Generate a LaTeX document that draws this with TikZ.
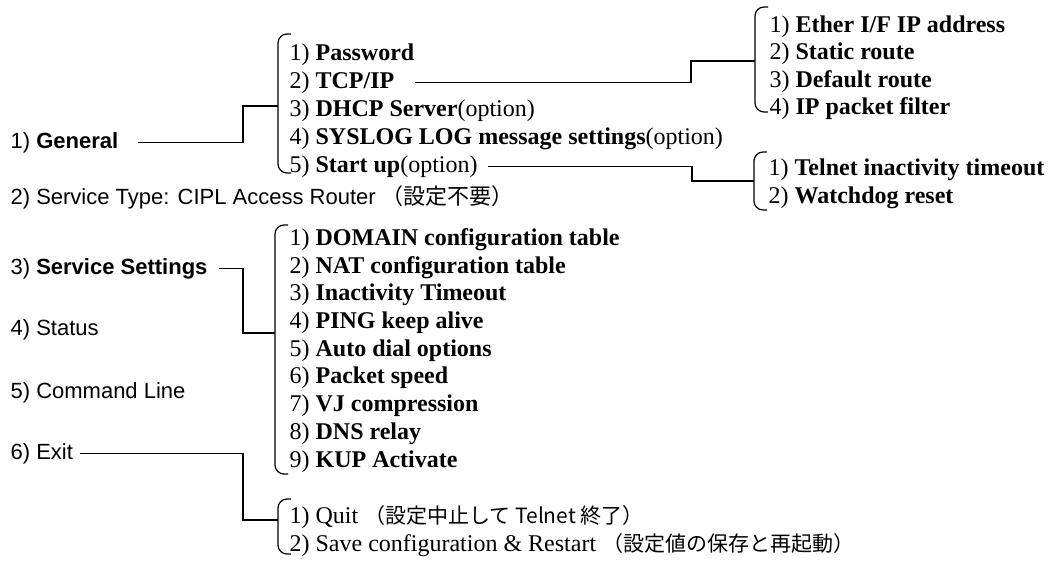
\documentclass[tikz,border=0pt]{standalone}
\usepackage{fontspec}
\setmainfont{Liberation Serif}
\setsansfont{Liberation Sans}
\newfontfamily\jp{Noto Sans CJK JP}
\usetikzlibrary{calc}
\def\lbrak(#1:#2:#3){\draw[rounded corners=9pt] (#1+13,#2) -- (#1,#2) -- (#1,#3) -- (#1+13,#3);}

\begin{document}
\begin{tikzpicture}[x=1pt,y=-1pt,line width=1.2pt,
	item/.style={anchor=base west,inner sep=0pt,font=\fontsize{24}{28}\selectfont},
	menu/.style={anchor=base west,inner sep=0pt,font=\sffamily\fontsize{22}{26}\selectfont}]
			%%%%% START %%%%%
			\useasboundingbox (0,0) rectangle (1050,560);
			
			\node[menu] (gen) at (10,148) {1) \textbf{General}};
			\node[menu] (stype) at (10,204) {2) Service Type: CIPL Access Router {\jp （設定不要）}};
			\node[menu] (sset) at (10,274) {3) \textbf{Service Settings}};
			\node[menu] (status) at (10,335) {4) Status};
			\node[menu] (cmdl) at (10,398) {5) Command Line};
			\node[menu] (exitm) at (10,459) {6) Exit};
			
			\lbrak(278:34:173)
			\node[item] (g1) at (289,60) {1) \textbf{Password}};
			\node[item] (g2) at (289,88) {2) \textbf{TCP/IP}};
			\node[item] (g3) at (289,116) {3) \textbf{DHCP Server}(option)};
			\node[item] (g4) at (289,144) {4) \textbf{SYSLOG LOG message settings}(option)};
			\node[item] (g5) at (289,172) {5) \textbf{Start up}(option)};
			
			\lbrak(755:7:112)
			\node[item] (t1) at (769,32) {1) \textbf{Ether I/F IP address}};
			\node[item] (t2) at (769,59) {2) \textbf{Static route}};
			\node[item] (t3) at (769,87) {3) \textbf{Default route}};
			\node[item] (t4) at (769,114) {4) \textbf{IP packet filter}};
			
			\lbrak(754:152:210)
			\node[item] (s1) at (768,175) {1) \textbf{Telnet inactivity timeout}};
			\node[item] (s2) at (768,203) {2) \textbf{Watchdog reset}};
			
			\lbrak(275:225:474)
			\node[item] (v1) at (289,245) {1) \textbf{DOMAIN configuration table}};
			\node[item] (v2) at (289,273) {2) \textbf{NAT configuration table}};
			\node[item] (v3) at (289,300) {3) \textbf{Inactivity Timeout}};
			\node[item] (v4) at (289,328) {4) \textbf{PING keep alive}};
			\node[item] (v5) at (289,356) {5) \textbf{Auto dial options}};
			\node[item] (v6) at (289,383) {6) \textbf{Packet speed}};
			\node[item] (v7) at (289,411) {7) \textbf{VJ compression}};
			\node[item] (v8) at (289,439) {8) \textbf{DNS relay}};
			\node[item] (v9) at (289,467) {9) \textbf{KUP Activate}};
			
			\lbrak(278:499:554)
			\node[item] (e1) at (289,523) {1) Quit {\jp\fontsize{21}{26}\selectfont （設定中止して Telnet 終了）}};
			\node[item] (e2) at (289,551) {2) Save configuration \& Restart {\jp\fontsize{21}{26}\selectfont （設定値の保存と再起動）}};
			
			\coordinate (br1) at (278,106);
			\coordinate (br2) at (755,61);
			\coordinate (br5) at (754,181);
			\coordinate (br3) at (275,333);
			\coordinate (br4) at (278,520);
			
			\draw ([xshift=19pt]gen.east) -| ($(br1)+(-35,0)$) -- (br1);
			\draw ([xshift=20pt]g2.east) -| ($(br2)+(-64,0)$) -- (br2);
			\draw ([xshift=10pt]g5.east) -| ($(br5)+(-62,0)$) -- (br5);
			\draw ([xshift=11pt]sset.east) -| ($(br3)+(-32,0)$) -- (br3);
			\draw ([xshift=6pt]exitm.east) -| ($(br4)+(-35,0)$) -- (br4);
			
			%%%%% END %%%%%
\end{tikzpicture}
\end{document}
